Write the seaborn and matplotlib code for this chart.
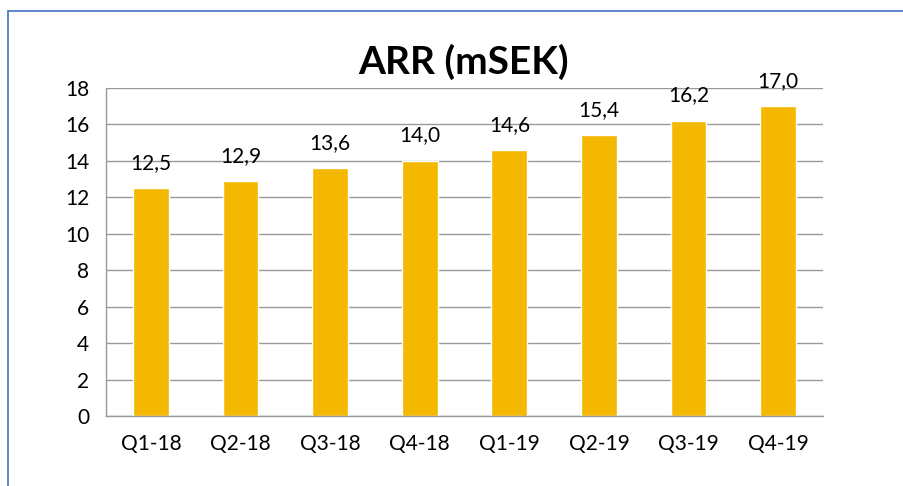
import pandas as pd
import seaborn as sns
import matplotlib.pyplot as plt
from matplotlib.lines import Line2D

quarters = ["Q1-18", "Q2-18", "Q3-18", "Q4-18", "Q1-19", "Q2-19", "Q3-19", "Q4-19"]
arr_values = [12.5, 12.9, 13.6, 14.0, 14.6, 15.4, 16.2, 17.0]
y_ticks = [0, 2, 4, 6, 8, 10, 12, 14, 16, 18]

data = pd.DataFrame({"quarter": quarters, "arr": arr_values})

sns.set_style("white")
plt.rcParams['font.family'] = ['Lato', 'DejaVu Sans']
plt.rcParams['text.color'] = 'black'
plt.rcParams['xtick.color'] = 'black'
plt.rcParams['ytick.color'] = 'black'

fig = plt.figure(figsize=(9.04, 4.86), dpi=100)
ax = fig.add_axes([0.1173, 0.144, 0.7931, 0.675])

sns.barplot(data=data, x="quarter", y="arr", color="#F5B800",
            saturation=1, width=0.4, ax=ax)

# value labels with decimal comma
for i, v in enumerate(arr_values):
    ax.annotate(f"{v:.1f}".replace(".", ","), (i, v), xytext=(0, 11),
                textcoords="offset points", ha="center", va="bottom",
                fontsize=15, color="black")

ax.set_ylim(0, 18)
ax.set_xlim(-0.5, len(quarters) - 0.5)
ax.set_yticks(y_ticks)
ax.set_yticklabels([str(t) for t in y_ticks], fontsize=15)
ax.tick_params(axis="x", which="major", length=0, labelsize=15, pad=13)
ax.set_xticks([i - 0.5 for i in range(len(quarters) + 1)], minor=True)
ax.tick_params(axis="x", which="minor", length=6, color="#999999", width=1)
ax.tick_params(axis="y", length=6, color="#999999", labelcolor="black", width=1, pad=6)
ax.tick_params(axis="x", labelcolor="black")
ax.set_axisbelow(True)
ax.yaxis.grid(True, color="#999999", linewidth=1)
ax.set_xlabel("")
ax.set_ylabel("")

for side in ["top", "right"]:
    ax.spines[side].set_visible(False)
for side in ["left", "bottom"]:
    ax.spines[side].set_color("#999999")
    ax.spines[side].set_linewidth(1)

fig.text(0.513, 0.872, "ARR (mSEK)", ha="center", va="center",
         fontsize=28, fontweight="bold", color="black")

# outer frame (only top and left edges visible)
fx, fy = 8 / 904, 1 - 11 / 486
fig.add_artist(Line2D([fx, 1], [fy, fy], color="#4472C4", lw=1.2, transform=fig.transFigure))
fig.add_artist(Line2D([fx, fx], [0, fy], color="#4472C4", lw=1.2, transform=fig.transFigure))

fig.savefig("out.png", dpi=100)
